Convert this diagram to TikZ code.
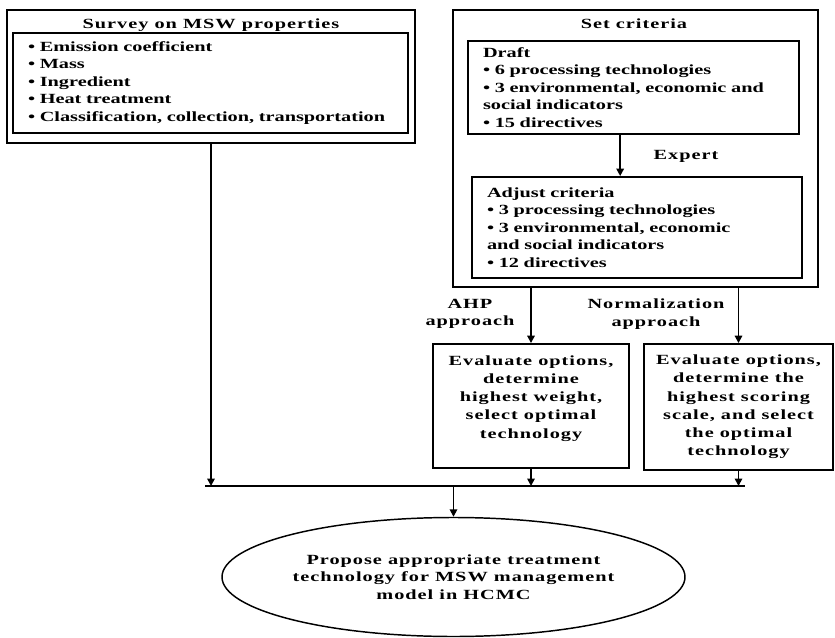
\documentclass[tikz,border=0pt]{standalone}
\usepackage{fontspec}
\setmainfont{Liberation Serif}[FakeStretch=1.45,LetterSpace=7]
\newfontfamily\listfont{Liberation Serif}[FakeStretch=1.45]
\usetikzlibrary{arrows.meta,shapes.geometric}

\tikzset{
  txt/.style={inner sep=0pt, font=\fontsize{10.5}{13.3}\selectfont\bfseries},
  outerbox/.style={draw, line width=1.1pt, rectangle, inner sep=0pt},
  listbox/.style={draw, line width=1.4pt, rectangle, inner xsep=11.25pt, inner ysep=0pt,
    align=left, font=\listfont\fontsize{10.5}{13.1}\selectfont\bfseries},
  evalbox/.style={draw, line width=1.4pt, rectangle, inner sep=0pt, align=center,
    font=\fontsize{10.5}{13.7}\selectfont\bfseries},
  conn/.style={line width=1.3pt, -{Triangle[width=5.5pt,length=5.5pt]}},
  bus/.style={line width=1.3pt},
}

\begin{document}
\begin{tikzpicture}[x=0.75pt,y=0.75pt,yscale=-1,xscale=1]
\useasboundingbox (0,0) rectangle (835,638);

% survey on MSW properties
\node[outerbox, minimum width=306pt, minimum height=99.75pt] (survey) at (211,76.5) {};
\node[txt] (surveytitle) at (211,25) {Survey on MSW properties};
\node[listbox, text width=273.75pt, minimum width=296.25pt, minimum height=75pt] (surveylist) at (210.5,83)
  {\textbullet\ Emission coefficient\\
   \textbullet\ Mass\\
   \textbullet\ Ingredient\\
   \textbullet\ Heat treatment\\
   \textbullet\ Classification, collection, transportation};

% set criteria
\node[outerbox, minimum width=273.75pt, minimum height=207.75pt] (criteria) at (635.5,148.5) {};
\node[txt] (criteriatitle) at (634,24) {Set criteria};
\node[listbox, text width=225.75pt, minimum width=248.25pt, minimum height=69.75pt] (draft) at (633.5,87.5)
  {Draft\\
   \textbullet\ 6 processing technologies\\
   \textbullet\ 3 environmental, economic and\\
   social indicators\\
   \textbullet\ 15 directives};
\node[listbox, text width=225pt, minimum width=247.5pt, minimum height=75.75pt] (adjust) at (637,227.5)
  {Adjust criteria\\
   \textbullet\ 3 processing technologies\\
   \textbullet\ 3 environmental, economic\\
   and social indicators\\
   \textbullet\ 12 directives};
\coordinate (expertfrom) at ([xshift=-10pt]draft.south);
\draw[conn] (expertfrom) -- (expertfrom |- adjust.north);
\node[txt] (expert) at (686,156) {Expert};

% evaluation
\node[evalbox, minimum width=147pt, minimum height=93pt] (ahp) at (531,406)
  {Evaluate options,\\determine\\highest weight,\\select optimal\\technology\\ \mbox{}};
\node[evalbox, minimum width=141.75pt, minimum height=94.5pt] (norm) at (738.5,407)
  {Evaluate options,\\determine the\\highest scoring\\scale, and select\\the optimal\\technology};
\node[txt, align=center] (ahplbl) at (470,314) {AHP\\approach};
\node[txt, align=center] (normlbl) at (656,314) {Normalization\\approach};
\draw[conn] (ahp.north |- criteria.south) -- (ahp.north);
\draw[conn] (norm.north |- criteria.south) -- (norm.north);

% goal
\node[draw, ellipse, line width=1.1pt, minimum width=347.25pt, minimum height=89.25pt, inner sep=0pt,
  align=center, font=\fontsize{10.5}{13.1}\selectfont\bfseries] (goal) at (453.5,577)
  {Propose appropriate treatment\\technology for MSW management\\model in HCMC};

% joining line
\coordinate (busW) at (205,486);
\coordinate (busE) at (745,486);
\draw[bus] (busW) -- (busE);
\draw[conn] (survey.south) -- (survey.south |- busW);
\draw[conn] (ahp.south) -- (ahp.south |- busW);
\draw[conn] (norm.south) -- (norm.south |- busW);
\draw[conn] (goal.north |- busW) -- (goal.north);

\end{tikzpicture}
\end{document}
